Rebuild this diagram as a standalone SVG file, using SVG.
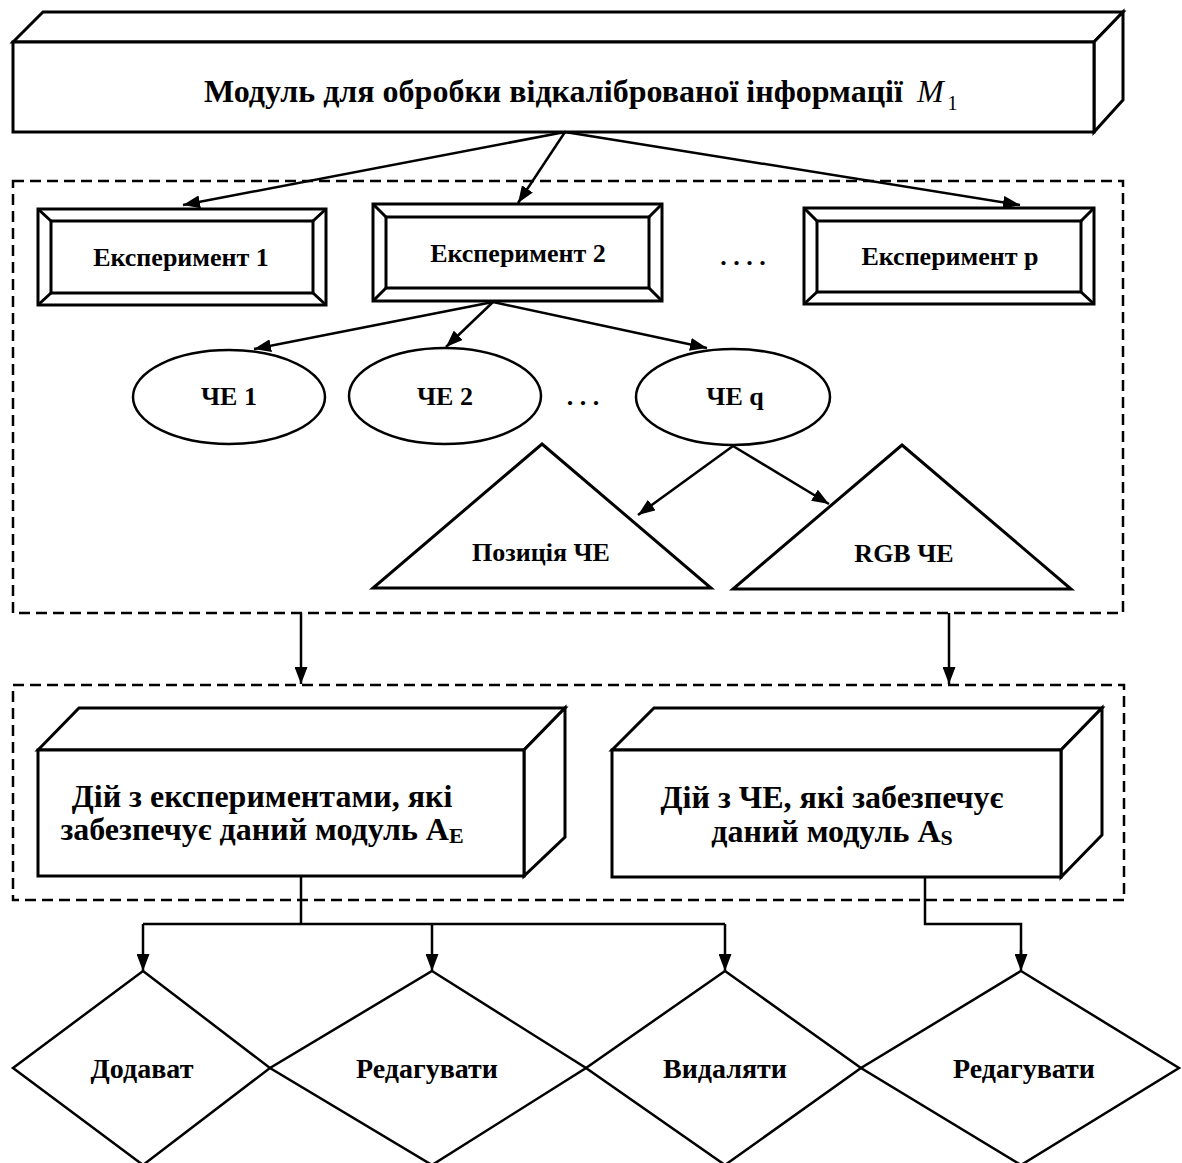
<svg xmlns="http://www.w3.org/2000/svg" width="1182" height="1163" viewBox="0 0 1182 1163">
<style>
.s{fill:#fff;stroke:#000;stroke-width:3;stroke-linejoin:miter}
.l{fill:none;stroke:#000;stroke-width:3}
.c{fill:none;stroke:#000;stroke-width:2.5}
.d{fill:none;stroke:#000;stroke-width:2.5;stroke-dasharray:11 6}
.t{font-family:"Liberation Serif","Times New Roman",serif;font-weight:bold;fill:#000;text-anchor:middle}
.ts{text-anchor:start}
</style>
<defs>
<marker id="ah" markerUnits="userSpaceOnUse" markerWidth="17" markerHeight="13" viewBox="0 0 17 13" refX="17" refY="6.5" orient="auto">
<path d="M0,0 L17,6.5 L0,13 z" fill="#000"/>
</marker>
</defs>
<rect width="1182" height="1163" fill="#fff"/>

<g id="group1">
<rect class="d" x="13" y="181" width="1110" height="432"/>
</g>
<g id="group2">
<rect class="d" x="13" y="685" width="1111" height="215"/>
</g>

<g id="module-m1">
<polygon class="s" points="13,42 43,12 1123,12 1094,42"/>
<polygon class="s" points="1094,42 1123,12 1123,100 1094,132"/>
<rect class="s" x="13" y="42" width="1081" height="90"/>
<text class="t ts" x="204" y="102" font-size="32">Модуль для обробки відкаліброваної інформації<tspan font-weight="normal" font-style="italic" dx="14">M</tspan><tspan font-weight="normal" font-size="20" dx="4" dy="8">1</tspan></text>
</g>

<g id="exp1">
<rect class="s" x="38" y="209" width="288" height="96"/>
<rect class="l" x="51" y="221" width="262" height="72"/>
<path class="l" d="M38,209 L51,221 M326,209 L313,221 M38,305 L51,293 M326,305 L313,293"/>
<text class="t" x="181" y="266" font-size="26">Експеримент 1</text>
</g>

<g id="exp2">
<rect class="s" x="373" y="204" width="289" height="97"/>
<rect class="l" x="386" y="217" width="263" height="71"/>
<path class="l" d="M373,204 L386,217 M662,204 L649,217 M373,301 L386,288 M662,301 L649,288"/>
<text class="t" x="518" y="262" font-size="26">Експеримент 2</text>
</g>

<g id="dots1">
<text class="t" x="743" y="265" font-size="26">. . . .</text>
</g>

<g id="expp">
<rect class="s" x="804" y="208" width="290" height="96"/>
<rect class="l" x="817" y="221" width="264" height="71"/>
<path class="l" d="M804,208 L817,221 M1094,208 L1081,221 M804,304 L817,292 M1094,304 L1081,292"/>
<text class="t" x="950" y="265" font-size="26">Експеримент p</text>
</g>

<g id="che1">
<ellipse class="c" cx="229" cy="397" rx="96" ry="47"/>
<text class="t" x="229" y="405" font-size="26">ЧЕ 1</text>
</g>
<g id="che2">
<ellipse class="c" cx="445" cy="396" rx="96" ry="48"/>
<text class="t" x="445" y="405" font-size="26">ЧЕ 2</text>
</g>
<g id="dots2">
<text class="t" x="583" y="405" font-size="26">. . .</text>
</g>
<g id="cheq">
<ellipse class="c" cx="733" cy="397" rx="97" ry="48"/>
<text class="t" x="735" y="405" font-size="26">ЧЕ q</text>
</g>

<g id="pos">
<polygon class="s" points="542,444 711,588 373,588"/>
<text class="t" x="541" y="561" font-size="26">Позиція ЧЕ</text>
</g>
<g id="rgb">
<polygon class="s" points="902,445 1071,589 733,589"/>
<text class="t" x="904" y="562" font-size="26">RGB ЧЕ</text>
</g>

<g id="actions-e">
<polygon class="s" points="38,750 79,708 565,708 524,750"/>
<polygon class="s" points="524,750 565,708 565,837 524,876"/>
<rect class="s" x="38" y="750" width="486" height="126"/>
<text class="t" x="262" y="807" font-size="32">Дій з експериментами, які</text>
<text class="t" x="262" y="840" font-size="32">забезпечує даний модуль A<tspan font-size="22" dy="3">E</tspan></text>
</g>

<g id="actions-s">
<polygon class="s" points="612,750 654,708 1102,708 1061,750"/>
<polygon class="s" points="1061,750 1102,708 1102,835 1061,877"/>
<rect class="s" x="612" y="750" width="449" height="127"/>
<text class="t" x="832" y="808" font-size="32">Дій з ЧЕ, які забезпечує</text>
<text class="t" x="832" y="842" font-size="32">даний модуль A<tspan font-size="22" dy="3">S</tspan></text>
</g>

<g id="add">
<polygon class="c" points="143,971 270,1068 143,1165 13,1068" fill="#fff"/>
<text class="t" x="142" y="1078" font-size="28">Додават</text>
</g>
<g id="edit1">
<polygon class="c" points="432,971 586,1068 432,1165 270,1068" fill="#fff"/>
<text class="t" x="427" y="1078" font-size="28">Редагувати</text>
</g>
<g id="delete">
<polygon class="c" points="725,971 861,1068 725,1165 586,1068" fill="#fff"/>
<text class="t" x="725" y="1078" font-size="28">Видаляти</text>
</g>
<g id="edit2">
<polygon class="c" points="1021,971 1179,1068 1021,1165 861,1068" fill="#fff"/>
<text class="t" x="1024" y="1078" font-size="28">Редагувати</text>
</g>

<g id="connectors">
<line class="c" x1="565" y1="132" x2="183" y2="205" marker-end="url(#ah)"/>
<line class="c" x1="565" y1="132" x2="518" y2="203" marker-end="url(#ah)"/>
<line class="c" x1="565" y1="132" x2="1020" y2="205" marker-end="url(#ah)"/>
<line class="c" x1="493" y1="302" x2="254" y2="349" marker-end="url(#ah)"/>
<line class="c" x1="493" y1="302" x2="446" y2="347" marker-end="url(#ah)"/>
<line class="c" x1="493" y1="302" x2="707" y2="348" marker-end="url(#ah)"/>
<line class="c" x1="733" y1="446" x2="638" y2="515" marker-end="url(#ah)"/>
<line class="c" x1="733" y1="446" x2="829" y2="504" marker-end="url(#ah)"/>
<line class="c" x1="301" y1="613" x2="301" y2="684" marker-end="url(#ah)"/>
<line class="c" x1="949" y1="613" x2="949" y2="684" marker-end="url(#ah)"/>
<polyline class="c" points="301,876 301,924"/>
<polyline class="c" points="143,924 725,924"/>
<line class="c" x1="143" y1="924" x2="143" y2="971" marker-end="url(#ah)"/>
<line class="c" x1="432" y1="924" x2="432" y2="971" marker-end="url(#ah)"/>
<line class="c" x1="725" y1="924" x2="725" y2="971" marker-end="url(#ah)"/>
<polyline class="c" points="925,877 925,924 1021,924 1021,956"/>
<line class="c" x1="1021" y1="950" x2="1021" y2="971" marker-end="url(#ah)"/>
</g>
</svg>
